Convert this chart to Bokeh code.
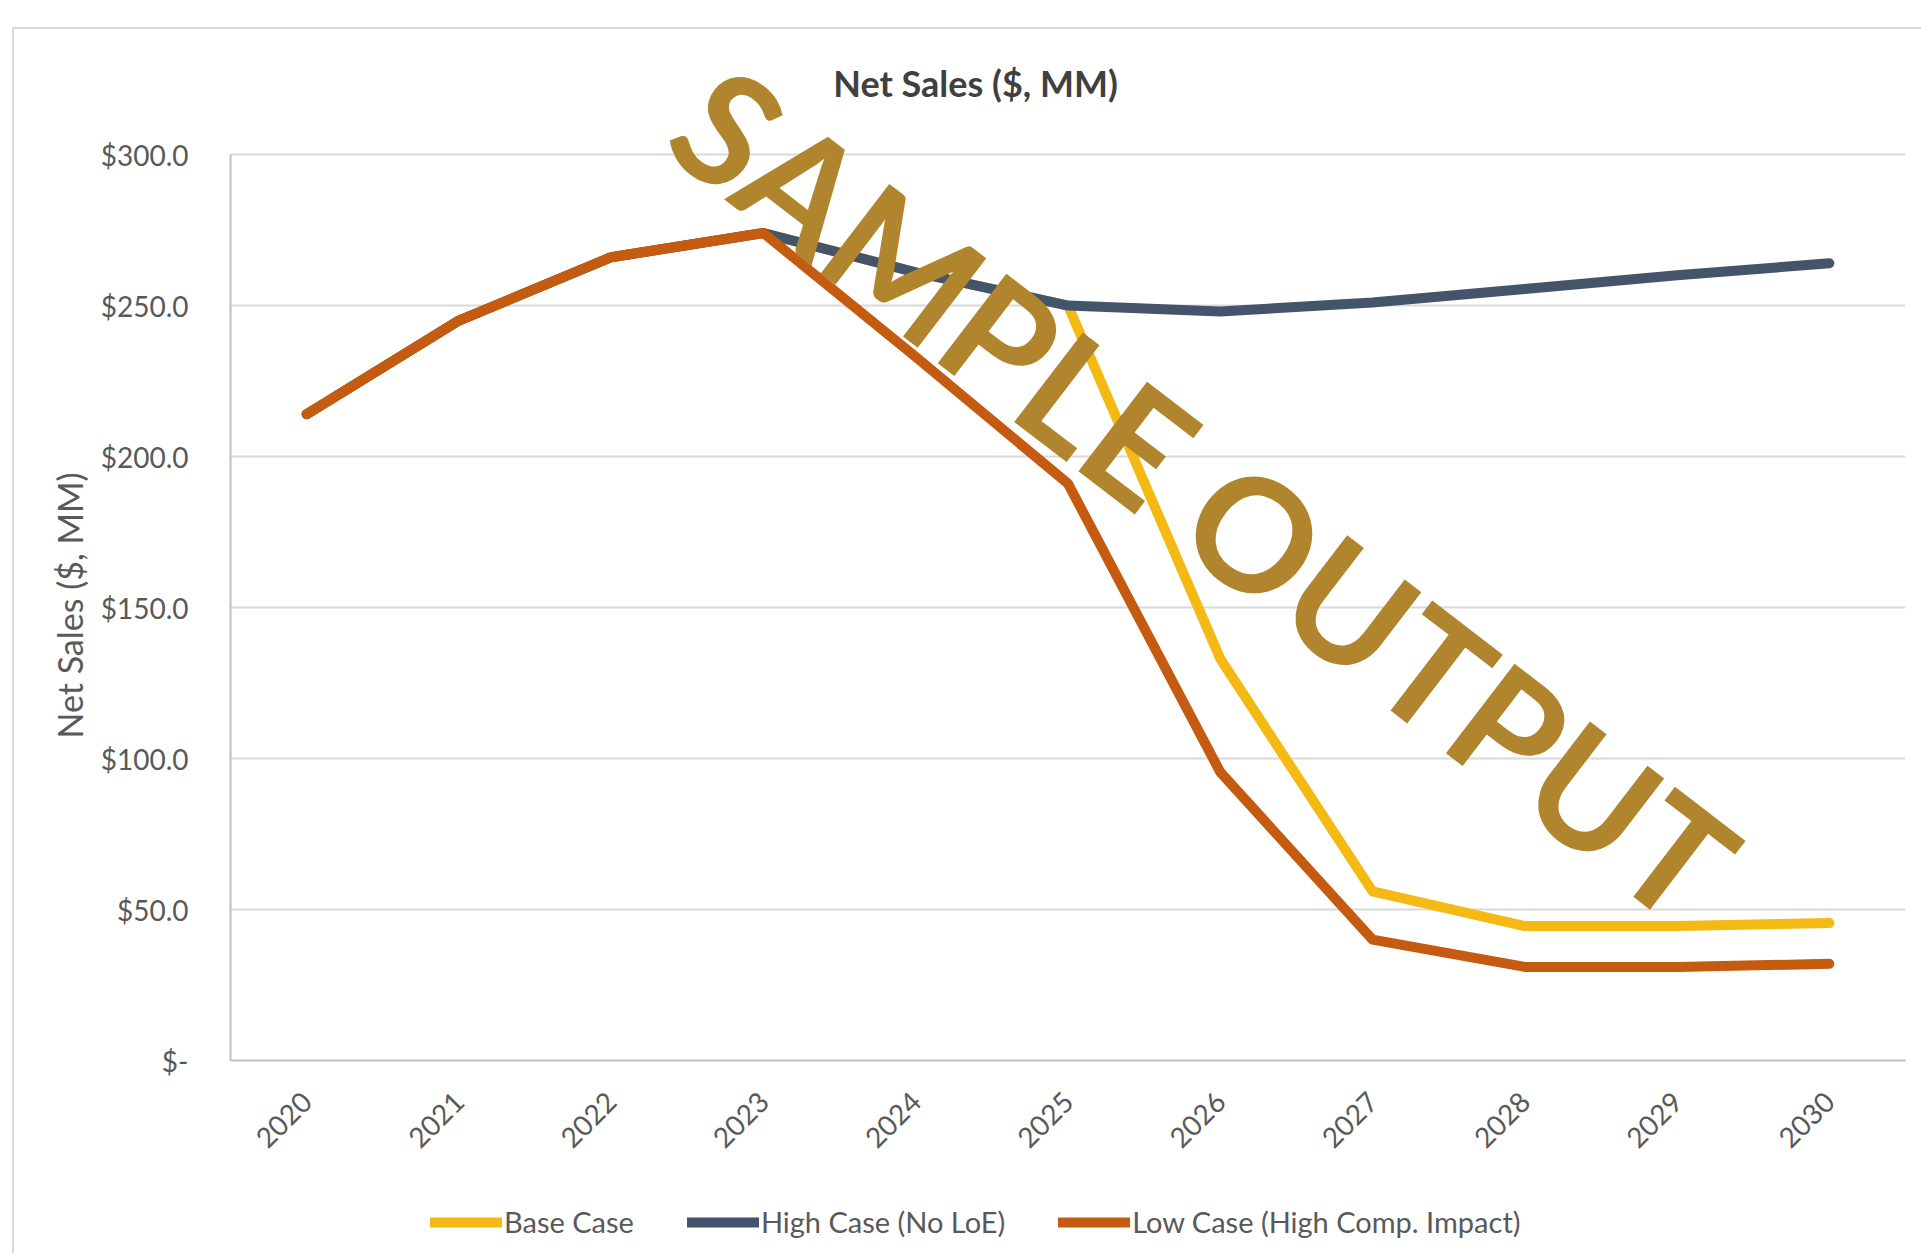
import math
from bokeh.plotting import figure
from bokeh.layouts import column
from bokeh.models import Legend, LegendItem, Label, FixedTicker, Title, InlineStyleSheet
from bokeh.embed import file_html
from bokeh.resources import INLINE

# ---- data ----
years = ["2020", "2021", "2022", "2023", "2024", "2025", "2026", "2027", "2028", "2029", "2030"]
base_case = [214, 245, 266, 274, 261, 250, 133, 56, 44.5, 44.5, 45.5]
high_case = [214, 245, 266, 274, 261, 250, 248, 251, 255.5, 260, 264]
low_case = [214, 245, 266, 274, 233, 191, 95.5, 40, 31, 31, 32]
y_ticks = [0, 50, 100, 150, 200, 250, 300]
y_tick_labels = ["$-", "$50.0", "$100.0", "$150.0", "$200.0", "$250.0", "$300.0"]
series_names = ["Base Case", "High Case (No LoE)", "Low Case (High Comp. Impact)"]
series_colors = ["#F4B912", "#44546A", "#C55A11"]
series_values = [base_case, high_case, low_case]

FONT = "Lato"
GRAY = "#595959"
Y_MAX = 300
Y_TOP = 351.0   # frame extends above the last gridline (room for title / watermark)

p = figure(
    x_range=years, y_range=(0, Y_TOP),
    width=1921, height=1190,
    output_backend="svg", toolbar_location=None,
    min_border_left=230, min_border_right=16,
    min_border_top=0, min_border_bottom=130,
)

for vals, color in zip(series_values, series_colors):
    p.line(years, vals, line_color=color, line_width=10,
           line_cap="round", line_join="round")

# axes
p.xaxis.major_label_orientation = math.pi / 4
p.xaxis.major_label_standoff = 30
p.xaxis.major_label_text_font = FONT
p.xaxis.major_label_text_font_size = "28px"
p.xaxis.major_label_text_color = GRAY
p.xaxis.major_tick_line_color = None
p.xaxis.minor_tick_line_color = None
p.xaxis.axis_line_color = "#bfbfbf"
p.xaxis.axis_line_width = 2

p.yaxis.ticker = FixedTicker(ticks=y_ticks)
p.yaxis.bounds = (0, Y_MAX)
p.yaxis.major_label_overrides = dict(zip(y_ticks, y_tick_labels))
p.yaxis.major_label_standoff = 36
p.yaxis.major_label_text_font = FONT
p.yaxis.major_label_text_font_size = "28px"
p.yaxis.major_label_text_color = GRAY
p.yaxis.major_tick_line_color = None
p.yaxis.minor_tick_line_color = None
p.yaxis.axis_line_color = "#bfbfbf"
p.yaxis.axis_line_width = 2

ylab = Title(text="Net Sales ($, MM)", align="left", offset=322,
             text_font=FONT, text_font_style="normal", text_font_size="34px",
             text_color=GRAY, standoff=16)
p.add_layout(ylab, "left")

p.xgrid.grid_line_color = None
p.ygrid.grid_line_color = "#d9d9d9"
p.ygrid.grid_line_width = 2
p.outline_line_color = None

title = Label(x=4.893, y=323.7, text="Net Sales ($, MM)",
              text_align="center", text_baseline="middle",
              text_font=FONT, text_font_style="bold", text_font_size="36px",
              text_color="#404040")
p.add_layout(title)

wm = Label(x=6.403, y=188.1, text="SAMPLE OUTPUT", angle=-37.5, angle_units="deg",
           text_align="center", text_baseline="middle",
           text_font=FONT, text_font_style="bold", text_font_size="156px",
           text_color="#B1852D")
p.add_layout(wm)

# legend strip below the chart: same series, drawn outside its visible y-range
q = figure(width=1921, height=63, x_range=years, y_range=(1000, 1001),
           output_backend="svg", toolbar_location=None,
           min_border=0)
q.axis.visible = False
q.grid.visible = False
q.outline_line_color = None
leg_renderers = [q.line(years, vals, line_color=c, line_width=10, line_cap="round")
                 for vals, c in zip(series_values, series_colors)]
legend = Legend(
    items=[LegendItem(label=n, renderers=[r]) for n, r in zip(series_names, leg_renderers)],
    orientation="horizontal",
    location=(200, 14),
    glyph_width=72, glyph_height=12,
    label_standoff=2, spacing=53, padding=0, margin=0,
    border_line_color=None, background_fill_alpha=0,
    label_text_font=FONT, label_text_font_size="29px", label_text_color=GRAY,
)
q.add_layout(legend)

frame_css = InlineStyleSheet(css="""
:host { position: relative; }
:host::after {
  content: ''; position: absolute; left: 12px; top: 27px; right: 0; bottom: 0;
  border-top: 2px solid #d9d9d9; border-left: 2px solid #d9d9d9;
  pointer-events: none;
}
""")

layout = column(p, q, spacing=0, stylesheets=[frame_css])

open("out.html", "w").write(file_html(layout, INLINE))
